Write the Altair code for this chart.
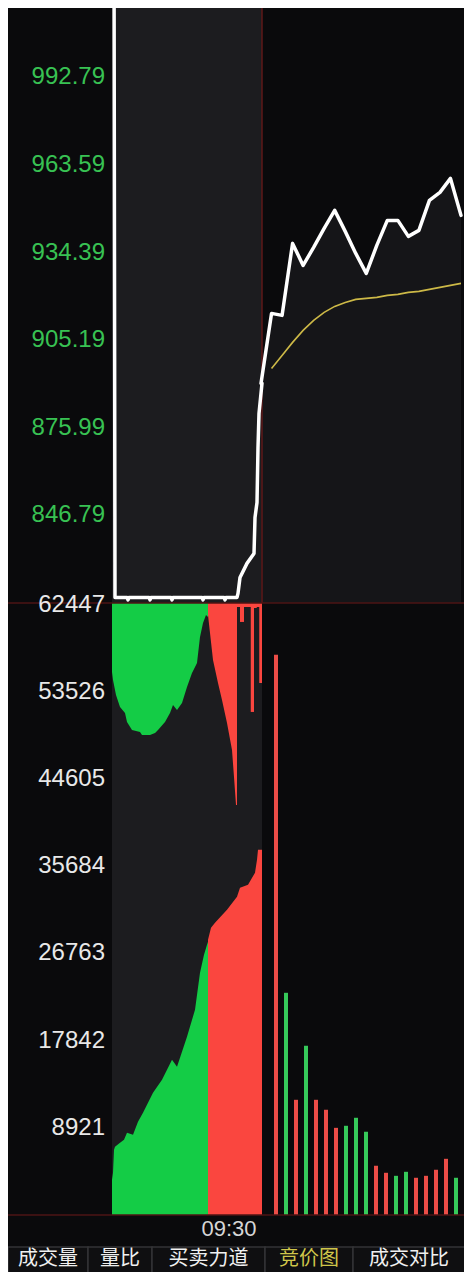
import altair as alt
import pandas as pd

# ---------------- data ----------------
PRICE_TICKS = [846.79, 875.99, 905.19, 934.39, 963.59, 992.79]
VOL_TICKS = [8921, 17842, 26763, 35684, 44605, 53526, 62447]
PRICE_LO, PRICE_HI = 817.59, 1015.92
VOL_HI = 62632

# auction price line (seconds since 09:15:00)
auc_sec = [8, 12, 60, 64, 68, 148, 152, 156, 236, 240, 244, 360, 364, 368,
           448, 452, 456, 500, 504, 512, 540, 568, 572, 580, 584, 588, 600]
auc_price = [1040.0, 819.46, 819.46, 818.6, 819.46, 819.46, 818.6, 819.46,
             819.46, 818.6, 819.46, 819.46, 818.6, 819.46, 819.46, 818.6,
             819.46, 819.46, 820.8, 826.1, 830.8, 834.1, 846.1, 851.1,
             869.4, 880.8, 890.8]

# continuous trading price per minute (index -1 = opening)
con_min = list(range(-1, 19))
con_price = [890.79, 914.12, 913.46, 937.46, 930.12, 936.12, 942.46, 948.46,
             941.46, 934.12, 927.46, 936.79, 945.12, 945.12, 939.79, 941.79,
             951.79, 954.46, 959.12, 946.79]
avg_min = list(range(0, 19))
avg_price = [895.79, 900.12, 904.46, 908.46, 911.79, 914.46, 916.46, 917.79,
             918.79, 919.12, 919.46, 920.12, 920.46, 921.12, 921.46, 922.12,
             922.79, 923.46, 924.12]

# auction unmatched volume (hanging from top)
hg_sec = [0, 4, 16, 32, 52, 60, 80, 112, 120, 152, 172, 184, 212, 232, 244,
          260, 280, 300, 320, 340, 352, 364, 376, 384]
hg_unm = [7060, 7880, 9420, 10640, 11260, 12180, 13000, 13200, 13510, 13510,
          13300, 13000, 12180, 11260, 10440, 10950, 10230, 8600, 7160, 6140,
          3480, 2050, 1230, 1430]
hr_sec = [384, 392, 404, 424, 440, 460, 480, 488, 496, 500]
hr_unm = [1230, 3070, 5830, 8190, 9930, 12280, 15040, 17810, 20670, 20670]
sp_start = [384, 512, 555, 568, 589]
sp_end = [600, 528, 568, 579, 600]
sp_unm = [410, 1940, 11150, 510, 8190]

# auction matched volume (from bottom)
bg_sec = [0, 4, 8, 12, 32, 48, 60, 84, 104, 124, 164, 200, 220, 240, 260,
          272, 300, 332, 352, 368, 380, 384]
bg_vol = [3600, 4320, 6670, 6980, 7390, 7700, 8410, 8210, 9540, 10460, 12510,
          13840, 14860, 15880, 15170, 16090, 18240, 21000, 24790, 26630,
          27650, 27960]
br_sec = [384, 396, 412, 460, 500, 512, 544, 572, 580, 584, 600]
br_vol = [28160, 29390, 29900, 31240, 32570, 33490, 33790, 35020, 36350,
          37380, 37380]

# continuous trading volume per minute
cv_min = list(range(0, 19))
cv_vol = [57330, 22740, 11790, 17320, 11790, 10770, 8920, 9130, 9950, 8520,
          5040, 4320, 4010, 4420, 3810, 4010, 4630, 5750, 3810]
cv_dir = ["up", "down", "up", "down", "up", "up", "up", "down", "down", "down",
          "up", "up", "down", "down", "up", "up", "up", "up", "down"]

# bottom tabs / time label
tab_labels = ["成交量", "量比", "买卖力道", "竞价图", "成交对比", ""]
tab_left = [8, 88, 152, 265, 353, 465]
tab_right = [88, 152, 265, 353, 465, 472]
tab_sel = [0, 0, 0, 1, 0, 0]
time_text = ["09:30"]
time_pos = [229]

# ---------------- style ----------------
BG = "#0a0a0c"
AUC_GRAY = "#1c1c1f"
UNDER = "#151518"
GREEN = "#14cc46"
RED = "#fa463f"
BAR_RED = "#ec4d47"
BAR_GREEN = "#36c95a"
PRICE_LABEL = "#38c253"
VOL_LABEL = "#e8e8e8"
DIVIDER = "#4d1414"
AVG = "#cdb947"
NUM_FONT = "Liberation Sans"
CJK = "Noto Sans CJK SC"

W, H = 456, 1264
PRICE_BOTTOM = 595      # pixel row where price panel ends
VOL_BOTTOM = 1207       # pixel row where volume panel ends


def X_auc(f):
    return alt.X(f"{f}:Q", scale=alt.Scale(domain=[0, 600], range=[104, 254]), axis=None)


def X_con(f):
    return alt.X(f"{f}:Q", scale=alt.Scale(domain=[-1, 18], range=[253, 453]), axis=None)


def X_px(f):
    return alt.X(f"{f}:Q", scale=alt.Scale(domain=[8, 472], range=[0, 464]), axis=None)


def YP(f):
    return alt.Y(f"{f}:Q", scale=alt.Scale(domain=[PRICE_LO, PRICE_HI],
                                           range=[PRICE_BOTTOM, 0], nice=False, zero=False),
                 axis=None)


def YV(f):
    return alt.Y(f"{f}:Q", scale=alt.Scale(domain=[0, VOL_HI],
                                           range=[VOL_BOTTOM, PRICE_BOTTOM], nice=False, zero=False),
                 axis=None)


one = pd.DataFrame({"s0": [0], "s1": [600], "ptop": [PRICE_HI], "pbot": [PRICE_LO],
                    "vtop": [VOL_HI], "vbot": [0]})
auc_df = pd.DataFrame({"s": auc_sec, "p": auc_price})
con_df = pd.DataFrame({"m": con_min, "p": con_price})
avg_df = pd.DataFrame({"m": avg_min, "p": avg_price})

layers = []

# auction-phase backgrounds
layers.append(alt.Chart(one).mark_rect(color=AUC_GRAY).encode(
    x=X_auc("s0"), x2="s1", y=YP("ptop"), y2="pbot"))
layers.append(alt.Chart(one).mark_rect(color=AUC_GRAY).encode(
    x=X_auc("s0"), x2="s1", y=YV("vtop"), y2="vbot"))

# price panel
layers.append(alt.Chart(con_df).mark_area(color=UNDER).encode(
    x=X_con("m"), y=YP("p"), y2=alt.datum(PRICE_LO)))
layers.append(alt.Chart(one).mark_rule(color="#5e1818", strokeWidth=1.5).encode(
    x=X_auc("s1"), y=YP("ptop"), y2="pbot"))
layers.append(alt.Chart(avg_df).mark_line(color=AVG, strokeWidth=1.6).encode(
    x=X_con("m"), y=YP("p")))
layers.append(alt.Chart(auc_df).mark_line(color="white", strokeWidth=3.5, clip=True,
                                          strokeJoin="round", strokeCap="round").encode(
    x=X_auc("s"), y=YP("p")))
layers.append(alt.Chart(con_df).mark_line(color="white", strokeWidth=3.5,
                                          strokeJoin="round", strokeCap="round").encode(
    x=X_con("m"), y=YP("p")))

# volume panel
layers.append(alt.Chart(pd.DataFrame({"s": hg_sec, "u": hg_unm})).transform_calculate(
    v=f"{VOL_HI} - datum.u").mark_area(color=GREEN).encode(
    x=X_auc("s"), y=YV("v"), y2=alt.datum(VOL_HI)))
layers.append(alt.Chart(pd.DataFrame({"s": hr_sec, "u": hr_unm})).transform_calculate(
    v=f"{VOL_HI} - datum.u").mark_area(color=RED).encode(
    x=X_auc("s"), y=YV("v"), y2=alt.datum(VOL_HI)))
layers.append(alt.Chart(pd.DataFrame({"s0": sp_start, "s1": sp_end, "u": sp_unm})).transform_calculate(
    v=f"{VOL_HI} - datum.u").mark_rect(color=RED).encode(
    x=X_auc("s0"), x2="s1", y=YV("v"), y2=alt.datum(VOL_HI)))
layers.append(alt.Chart(pd.DataFrame({"s": bg_sec, "v": bg_vol})).mark_area(color=GREEN).encode(
    x=X_auc("s"), y=YV("v"), y2=alt.datum(0)))
layers.append(alt.Chart(pd.DataFrame({"s": br_sec, "v": br_vol})).mark_area(color=RED).encode(
    x=X_auc("s"), y=YV("v"), y2=alt.datum(0)))
layers.append(alt.Chart(pd.DataFrame({"m": cv_min, "v": cv_vol, "d": cv_dir})).mark_bar(size=4).encode(
    x=X_con("m"), y=YV("v"), y2=alt.datum(0),
    color=alt.Color("d:N", scale=alt.Scale(domain=["up", "down"], range=[BAR_RED, BAR_GREEN]),
                    legend=None)))

# panel dividers (full width)
layers.append(alt.Chart(one).mark_rule(color=DIVIDER, strokeWidth=1.5).encode(y=YV("vtop")))
layers.append(alt.Chart(one).mark_rule(color=DIVIDER, strokeWidth=1.5).encode(y=YV("vbot")))

# axis labels
layers.append(alt.Chart(pd.DataFrame({"t": PRICE_TICKS})).mark_text(
    align="right", baseline="middle", font=NUM_FONT, fontSize=24, color=PRICE_LABEL).encode(
    x=alt.value(97), y=YP("t"), text=alt.Text("t:Q", format=".2f")))
layers.append(alt.Chart(pd.DataFrame({"t": VOL_TICKS})).mark_text(
    align="right", baseline="middle", font=NUM_FONT, fontSize=24, color=VOL_LABEL).encode(
    x=alt.value(97), y=YV("t"), text=alt.Text("t:Q", format="d")))

# bottom strip: time label and tabs
tabs_df = pd.DataFrame({"t": tab_labels, "l": tab_left, "r": tab_right, "sel": tab_sel})
layers.append(alt.Chart(pd.DataFrame({"t": time_text, "x": time_pos})).mark_text(
    font=NUM_FONT, fontSize=22, color="#d6d6d6", baseline="middle", align="center").encode(
    x=X_px("x"), y=alt.value(1221), text="t:N"))
layers.append(alt.Chart(tabs_df).mark_rect(fill="#0f0f11", stroke="#333336", strokeWidth=1.5,
                                           clip=True).encode(
    x=X_px("l"), x2="r", y=alt.value(1239), y2=alt.value(1290)))
layers.append(alt.Chart(tabs_df).transform_calculate(c="(datum.l + datum.r) / 2").mark_text(
    font=CJK, fontSize=20, baseline="middle", align="center").encode(
    x=X_px("c"), y=alt.value(1251), text="t:N",
    color=alt.condition("datum.sel == 1", alt.value("#cfc64a"), alt.value("#f0f0f0"))))

chart = alt.layer(*layers).resolve_scale(x="independent", y="independent").properties(
    width=W, height=H, background=BG, padding=0,
    autosize=alt.AutoSizeParams(type="none")).configure_view(strokeWidth=0, fill=BG)

chart.save("out.html", embed_options={"renderer": "svg", "actions": False})
